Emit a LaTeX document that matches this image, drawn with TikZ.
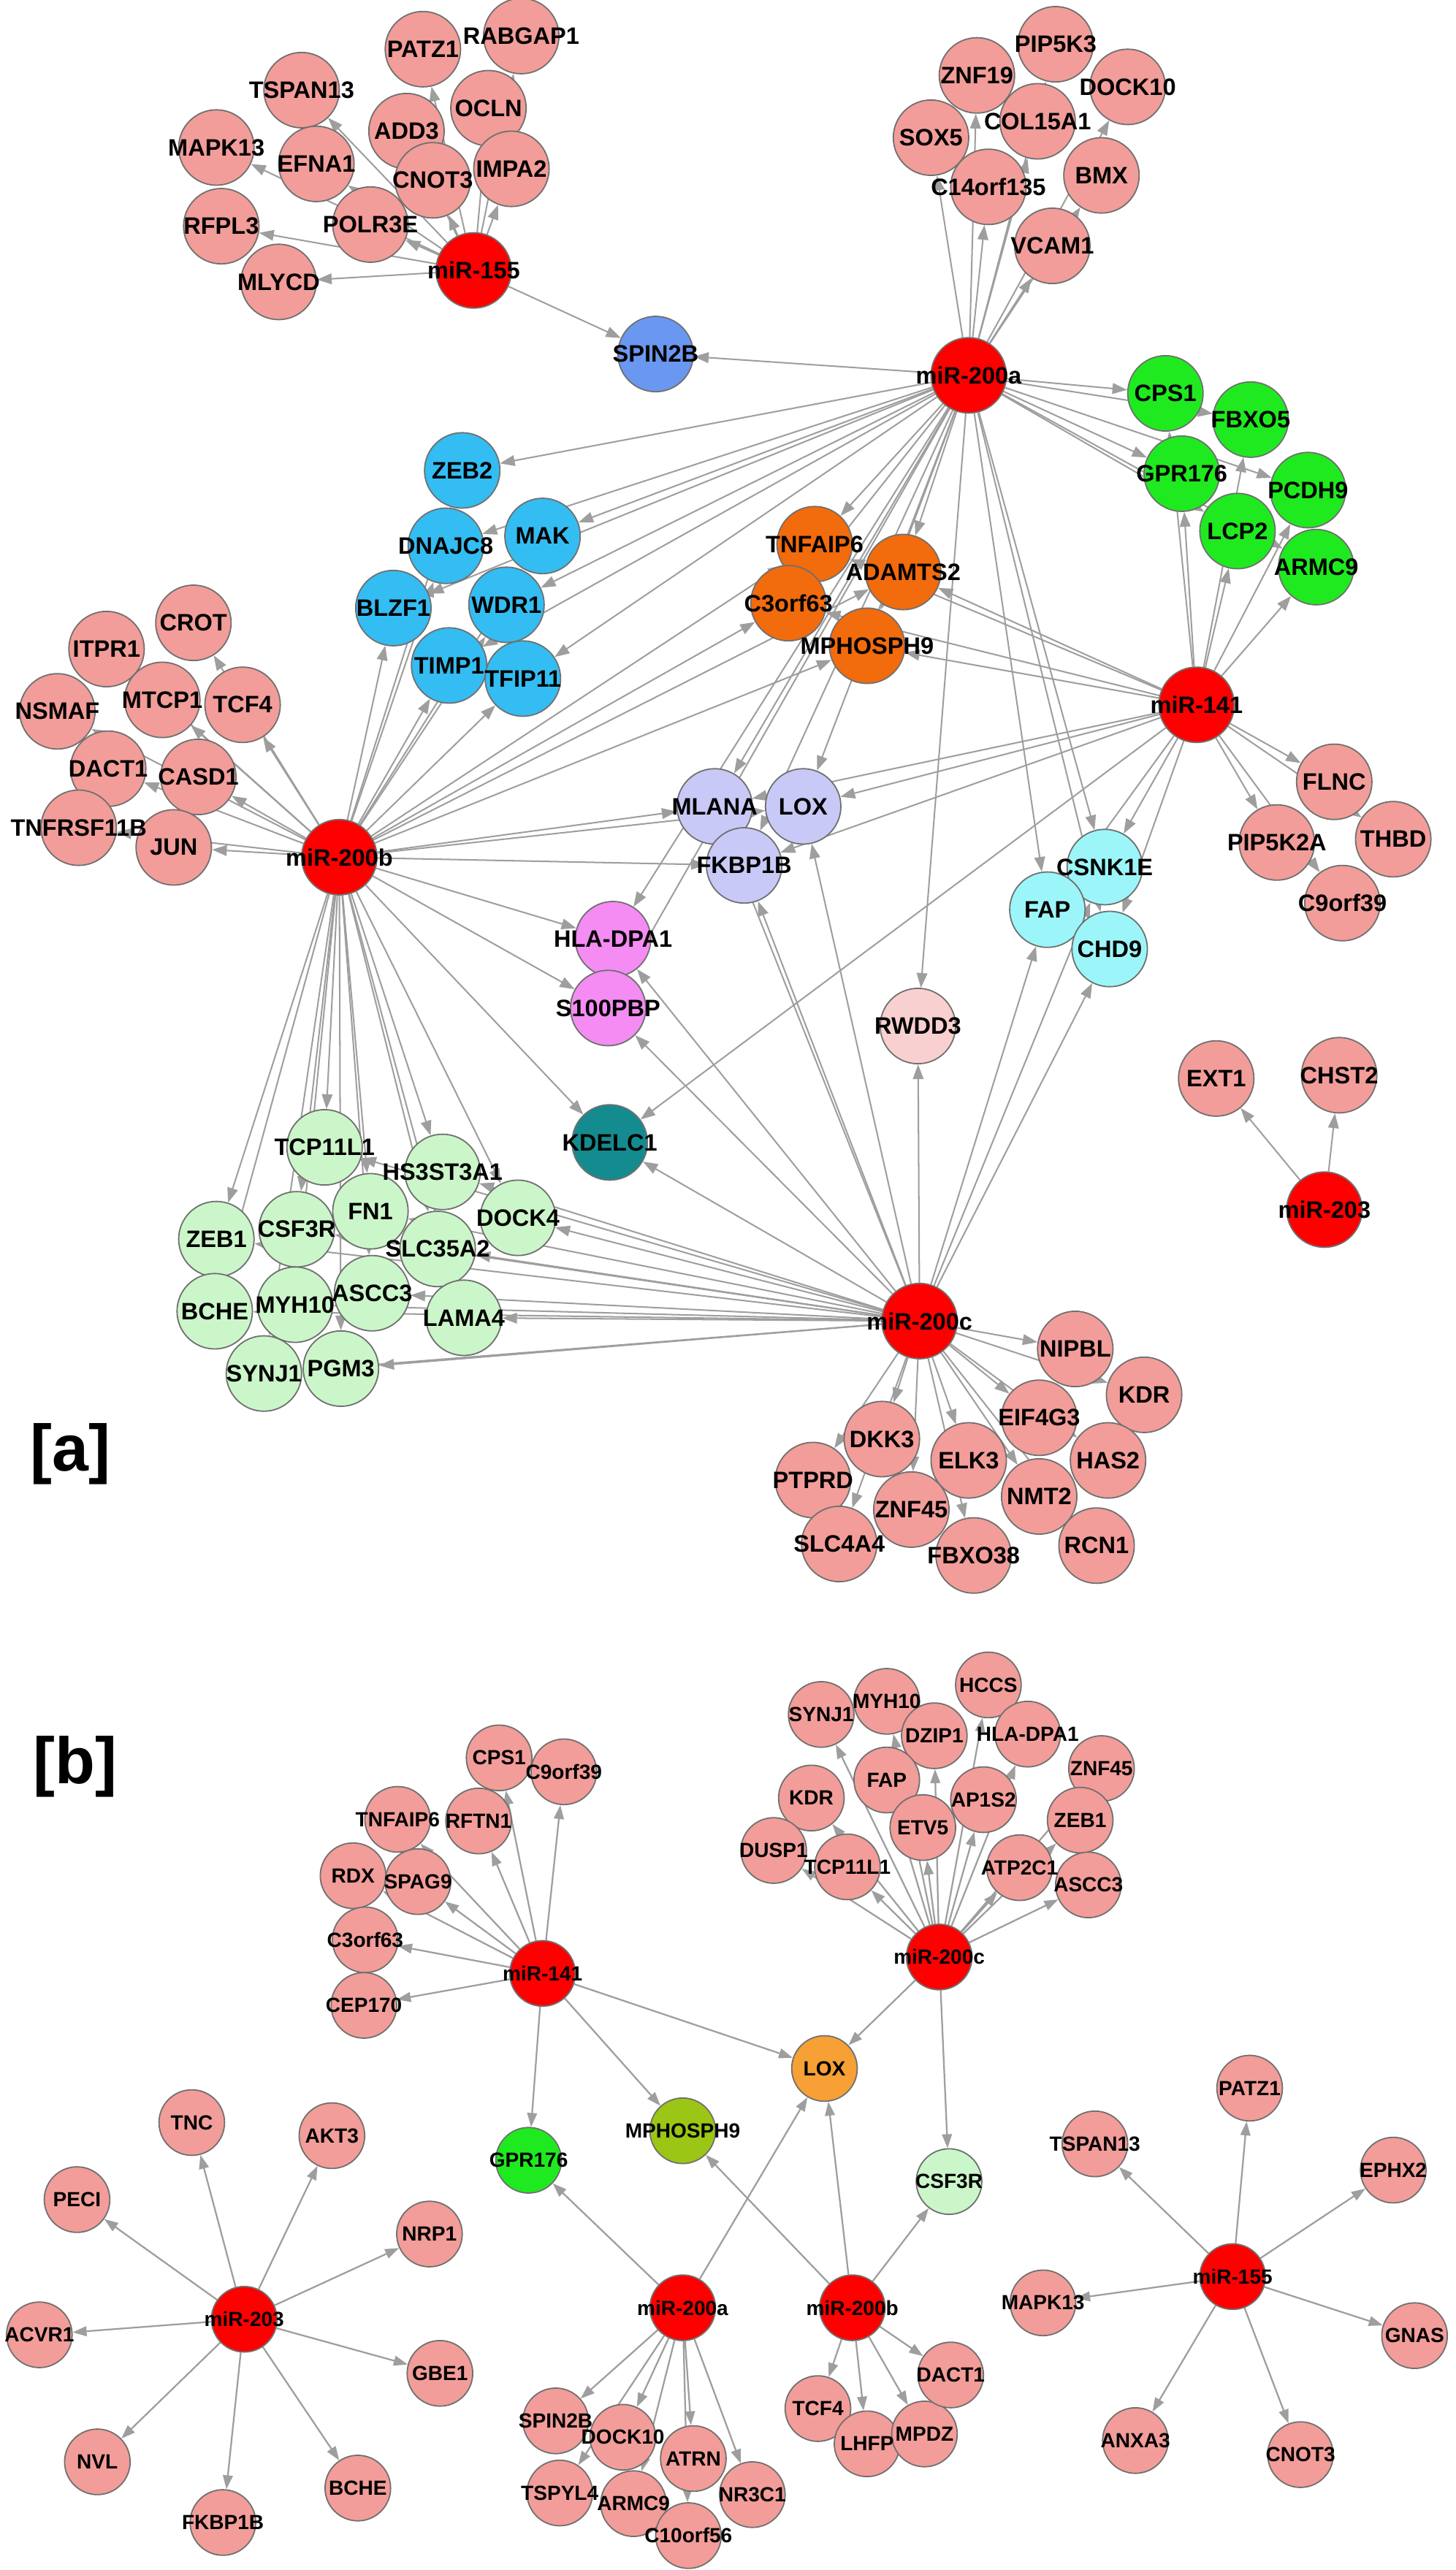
\documentclass[tikz,border=0pt]{standalone}
\usepackage{fontspec}
\setmainfont{Liberation Sans}
\usetikzlibrary{arrows.meta}
\definecolor{pk}{HTML}{F29D99}
\definecolor{mr}{HTML}{FF0000}
\definecolor{sb}{HTML}{6A97F0}
\definecolor{bl}{HTML}{33BDF2}
\definecolor{gr}{HTML}{1FEA1F}
\definecolor{orr}{HTML}{F26B0C}
\definecolor{lv}{HTML}{C9C9F7}
\definecolor{mg}{HTML}{F48CF3}
\definecolor{tl}{HTML}{148B8F}
\definecolor{cy}{HTML}{9CF6F9}
\definecolor{rw}{HTML}{F9D0D0}
\definecolor{lg}{HTML}{CBF6C9}
\definecolor{lo}{HTML}{F6A035}
\definecolor{ol}{HTML}{9BC615}
\definecolor{egray}{HTML}{9E9E9E}
\definecolor{ndraw}{HTML}{707070}
\pgfdeclarelayer{edgelayer}
\pgfsetlayers{edgelayer,main}
\tikzset{
 anode/.style={circle, draw=ndraw, line width=0.8pt, minimum size=46pt, inner sep=0pt},
 bnode/.style={circle, draw=ndraw, line width=0.8pt, minimum size=40pt, inner sep=0pt},
 alab/.style={font=\bfseries\fontsize{14.5}{15}\selectfont, inner sep=0pt},
 blab/.style={font=\bfseries\fontsize{12.5}{13}\selectfont, inner sep=0pt},
 aedge/.style={draw=egray, line width=0.9pt, -{Triangle[length=9pt,width=6.5pt]}},
 bedge/.style={draw=egray, line width=1pt, -{Triangle[length=8.5pt,width=6pt]}},
 tagtxt/.style={font=\bfseries\fontsize{40}{40}\selectfont, inner sep=0pt}
}
\def\NodesA{%
a155/289/165/mr/miR-155,
aPATZ1/258/30/pk/PATZ1,
aRABGAP1/318/22/pk/RABGAP1,
aTSPAN13/184/55/pk/TSPAN13,
aOCLN/298/66/pk/OCLN,
aMAPK13/132/90/pk/MAPK13,
aADD3/248/80/pk/ADD3,
aEFNA1/193/100/pk/EFNA1,
aCNOT3/264/110/pk/CNOT3,
aIMPA2/312/103/pk/IMPA2,
aRFPL3/135/138/pk/RFPL3,
aPOLR3E/226/137/pk/POLR3E,
aMLYCD/170/172/pk/MLYCD,
aSPIN2B/400/216/sb/SPIN2B,
a200a/591/229/mr/miR-200a,
aPIP5K3/644/27/pk/PIP5K3,
aZNF19/596/46/pk/ZNF19,
aDOCK10/688/53/pk/DOCK10,
aSOX5/568/84/pk/SOX5,
aCOL15A1/633/74/pk/COL15A1,
aBMX/672/107/pk/BMX,
aC14/603/114/pk/C14orf135,
aVCAM1/642/150/pk/VCAM1,
aCPS1/711/240/gr/CPS1,
aFBXO5/763/256/gr/FBXO5,
aGPR176/721/289/gr/GPR176,
aPCDH9/798/299/gr/PCDH9,
aLCP2/755/324/gr/LCP2,
aARMC9/803/346/gr/ARMC9,
aZEB2/282/287/bl/ZEB2,
aDNAJC8/272/333/bl/DNAJC8,
aMAK/331/327/bl/MAK,
aBLZF1/240/371/bl/BLZF1,
aWDR1/309/369/bl/WDR1,
aTIMP1/274/406/bl/TIMP1,
aTFIP11/319/414/bl/TFIP11,
aTNFAIP6/497/332/orr/TNFAIP6,
aADAMTS2/551/349/orr/ADAMTS2,
aC3orf63/481/368/orr/C3orf63,
aMPHOSPH9/529/394/orr/MPHOSPH9,
a141/730/430/mr/miR-141,
aMLANA/436/492/lv/MLANA,
aLOX/490/492/lv/LOX,
aFKBP1B/454/528/lv/FKBP1B,
aFLNC/814/477/pk/FLNC,
aPIP5K2A/779/514/pk/PIP5K2A,
aTHBD/850/512/pk/THBD,
aC9orf39/819/551/pk/C9orf39,
aCSNK1E/674/529/cy/CSNK1E,
aFAP/639/555/cy/FAP,
aCHD9/677/579/cy/CHD9,
aHLADPA1/374/573/mg/HLA-DPA1,
aS100PBP/371/615/mg/S100PBP,
aRWDD3/560/626/rw/RWDD3,
aKDELC1/372/697/tl/KDELC1,
a200b/207/523/mr/miR-200b,
aCROT/118/380/pk/CROT,
aITPR1/65/396/pk/ITPR1,
aNSMAF/35/434/pk/NSMAF,
aMTCP1/99/427/pk/MTCP1,
aTCF4/148/430/pk/TCF4,
aDACT1/66/469/pk/DACT1,
aCASD1/121/474/pk/CASD1,
aTNFR/48/505/pk/TNFRSF11B,
aJUN/106/517/pk/JUN,
aTCP11L1/198/700/lg/TCP11L1,
aHS3ST3A1/270/715/lg/HS3ST3A1,
aFN1/226/739/lg/FN1,
aDOCK4/316/743/lg/DOCK4,
aZEB1/132/756/lg/ZEB1,
aCSF3R/181/750/lg/CSF3R,
aSLC35A2/267/762/lg/SLC35A2,
aBCHE/131/800/lg/BCHE,
aMYH10/180/796/lg/MYH10,
aASCC3/227/789/lg/ASCC3,
aLAMA4/283/804/lg/LAMA4,
aSYNJ1/161/838/lg/SYNJ1,
aPGM3/208/835/lg/PGM3,
a200c/561/806/mr/miR-200c,
aNIPBL/656/823/pk/NIPBL,
aKDR/698/851/pk/KDR,
aEIF4G3/634/865/pk/EIF4G3,
aDKK3/538/878/pk/DKK3,
aELK3/591/891/pk/ELK3,
aHAS2/676/891/pk/HAS2,
aPTPRD/496/903/pk/PTPRD,
aNMT2/634/913/pk/NMT2,
aZNF45/556/921/pk/ZNF45,
aSLC4A4/512/942/pk/SLC4A4,
aFBXO38/594/949/pk/FBXO38,
aRCN1/669/943/pk/RCN1,
a203/808/738/mr/miR-203,
aEXT1/742/658/pk/EXT1,
aCHST2/817/656/pk/CHST2}
\def\NodesB{%
b141/331/1204/mr/miR-141,
bCPS1/304.5/1072.5/pk/CPS1,
bC9orf39/344/1081/pk/C9orf39,
bTNFAIP6/242.6/1110/pk/TNFAIP6,
bRFTN1/292/1111/pk/RFTN1,
bRDX/215.4/1144.4/pk/RDX,
bSPAG9/255/1148/pk/SPAG9,
bC3orf63/222.8/1183.5/pk/C3orf63,
bCEP170/222/1223.5/pk/CEP170,
bGPR176/322.5/1318/gr/GPR176,
bMPHOSPH9/416.5/1300/ol/MPHOSPH9,
bLOX/503/1262/lo/LOX,
bCSF3R/579/1331/lg/CSF3R,
b200c/573/1194/mr/miR-200c,
bSYNJ1/501/1046/pk/SYNJ1,
bMYH10/541/1038/pk/MYH10,
bHCCS/603/1028/pk/HCCS,
bDZIP1/570/1059/pk/DZIP1,
bHLADPA1/627/1058/pk/HLA-DPA1,
bZNF45/672/1079/pk/ZNF45,
bFAP/541/1086/pk/FAP,
bKDR/495/1097/pk/KDR,
bAP1S2/600/1098/pk/AP1S2,
bETV5/563/1115/pk/ETV5,
bZEB1/659/1110.5/pk/ZEB1,
bDUSP1/472/1129/pk/DUSP1,
bTCP11L1/517/1139/pk/TCP11L1,
bATP2C1/622/1139.5/pk/ATP2C1,
bASCC3/664/1150/pk/ASCC3,
b200a/416.5/1408/mr/miR-200a,
bSPIN2B/339/1477/pk/SPIN2B,
bDOCK10/380/1487/pk/DOCK10,
bATRN/423/1500/pk/ATRN,
bTSPYL4/341.5/1521/pk/TSPYL4,
bARMC9/386.5/1527.5/pk/ARMC9,
bNR3C1/459/1522/pk/NR3C1,
bC10orf56/420/1547/pk/C10orf56,
b200b/520/1408/mr/miR-200b,
bTCF4/499/1469.5/pk/TCF4,
bLHFP/529/1491/pk/LHFP,
bMPDZ/564/1485/pk/MPDZ,
bDACT1/580/1449/pk/DACT1,
b203/149/1415/mr/miR-203,
bTNC/117/1295/pk/TNC,
bAKT3/202.5/1303/pk/AKT3,
bPECI/47/1342/pk/PECI,
bNRP1/262/1363/pk/NRP1,
bACVR1/24/1424.5/pk/ACVR1,
bGBE1/268.4/1448/pk/GBE1,
bNVL/59.4/1502/pk/NVL,
bBCHE/218.3/1518/pk/BCHE,
bFKBP1B/136/1539/pk/FKBP1B,
b155/752/1389/mr/miR-155,
bPATZ1/762.4/1274/pk/PATZ1,
bTSPAN13/668/1308/pk/TSPAN13,
bEPHX2/850/1324/pk/EPHX2,
bMAPK13/636.3/1405/pk/MAPK13,
bGNAS/863/1425/pk/GNAS,
bANXA3/692.7/1489/pk/ANXA3,
bCNOT3/793.4/1497.6/pk/CNOT3}
\begin{document}
\begin{tikzpicture}[x=1pt,y=-1pt]
\useasboundingbox (0,0) rectangle (888,1568);
% circles
\foreach \nm/\px/\py/\col/\lab in \NodesA {\node[anode, fill=\col] (\nm) at (\px,\py) {};}
\foreach \nm/\px/\py/\col/\lab in \NodesB {\node[bnode, fill=\col] (\nm) at (\px,\py) {};}
% edges
\begin{pgfonlayer}{edgelayer}
\fill[white] (0,0) rectangle (888,1568);
\foreach \tg in {PATZ1,RABGAP1,TSPAN13,OCLN,MAPK13,ADD3,EFNA1,CNOT3,IMPA2,RFPL3,POLR3E,MLYCD,SPIN2B}
  \draw[aedge] (a155) -- (a\tg);
\foreach \tg in {PIP5K3,ZNF19,DOCK10,SOX5,COL15A1,BMX,C14,VCAM1,SPIN2B,CPS1,FBXO5,GPR176,PCDH9,LCP2,ARMC9,ZEB2,DNAJC8,MAK,BLZF1,WDR1,TIMP1,TFIP11,TNFAIP6,ADAMTS2,C3orf63,MPHOSPH9,MLANA,LOX,FKBP1B,CSNK1E,FAP,CHD9,RWDD3,HLADPA1,S100PBP}
  \draw[aedge] (a200a) -- (a\tg);
\foreach \tg in {CPS1,FBXO5,GPR176,PCDH9,LCP2,ARMC9,TNFAIP6,ADAMTS2,C3orf63,MPHOSPH9,MLANA,LOX,FKBP1B,CSNK1E,FAP,CHD9,KDELC1,FLNC,PIP5K2A,THBD,C9orf39}
  \draw[aedge] (a141) -- (a\tg);
\foreach \tg in {CROT,ITPR1,NSMAF,MTCP1,TCF4,DACT1,CASD1,TNFR,JUN,ZEB2,DNAJC8,MAK,BLZF1,WDR1,TIMP1,TFIP11,TNFAIP6,ADAMTS2,C3orf63,MPHOSPH9,MLANA,LOX,FKBP1B,HLADPA1,S100PBP,KDELC1,TCP11L1,HS3ST3A1,FN1,DOCK4,ZEB1,CSF3R,SLC35A2,BCHE,MYH10,ASCC3,LAMA4,SYNJ1,PGM3}
  \draw[aedge] (a200b) -- (a\tg);
\foreach \tg in {NIPBL,KDR,EIF4G3,DKK3,ELK3,HAS2,PTPRD,NMT2,ZNF45,SLC4A4,FBXO38,RCN1,TCP11L1,HS3ST3A1,FN1,DOCK4,ZEB1,CSF3R,SLC35A2,BCHE,MYH10,ASCC3,LAMA4,SYNJ1,PGM3,HLADPA1,S100PBP,KDELC1,MLANA,LOX,FKBP1B,CSNK1E,FAP,CHD9,RWDD3}
  \draw[aedge] (a200c) -- (a\tg);
\foreach \tg in {EXT1,CHST2}
  \draw[aedge] (a203) -- (a\tg);
% part b
\foreach \tg in {CPS1,C9orf39,TNFAIP6,RFTN1,RDX,SPAG9,C3orf63,CEP170,GPR176,MPHOSPH9,LOX}
  \draw[bedge] (b141) -- (b\tg);
\foreach \tg in {SYNJ1,MYH10,HCCS,DZIP1,HLADPA1,ZNF45,FAP,KDR,AP1S2,ETV5,ZEB1,DUSP1,TCP11L1,ATP2C1,ASCC3,LOX,CSF3R}
  \draw[bedge] (b200c) -- (b\tg);
\foreach \tg in {GPR176,LOX,SPIN2B,DOCK10,ATRN,TSPYL4,ARMC9,NR3C1,C10orf56}
  \draw[bedge] (b200a) -- (b\tg);
\foreach \tg in {LOX,MPHOSPH9,CSF3R,TCF4,LHFP,MPDZ,DACT1}
  \draw[bedge] (b200b) -- (b\tg);
\foreach \tg in {TNC,AKT3,PECI,NRP1,ACVR1,GBE1,NVL,BCHE,FKBP1B}
  \draw[bedge] (b203) -- (b\tg);
\foreach \tg in {PATZ1,TSPAN13,EPHX2,MAPK13,GNAS,ANXA3,CNOT3}
  \draw[bedge] (b155) -- (b\tg);
\end{pgfonlayer}
% labels on top
\foreach \nm/\px/\py/\col/\lab in \NodesA {\node[alab] (\nm-l) at (\nm) {\lab};}
\foreach \nm/\px/\py/\col/\lab in \NodesB {\node[blab] (\nm-l) at (\nm) {\lab};}
\node[tagtxt] (tagA) at (43,887) {[a]};
\node[tagtxt] (tagB) at (46,1078) {[b]};
\end{tikzpicture}
\end{document}
